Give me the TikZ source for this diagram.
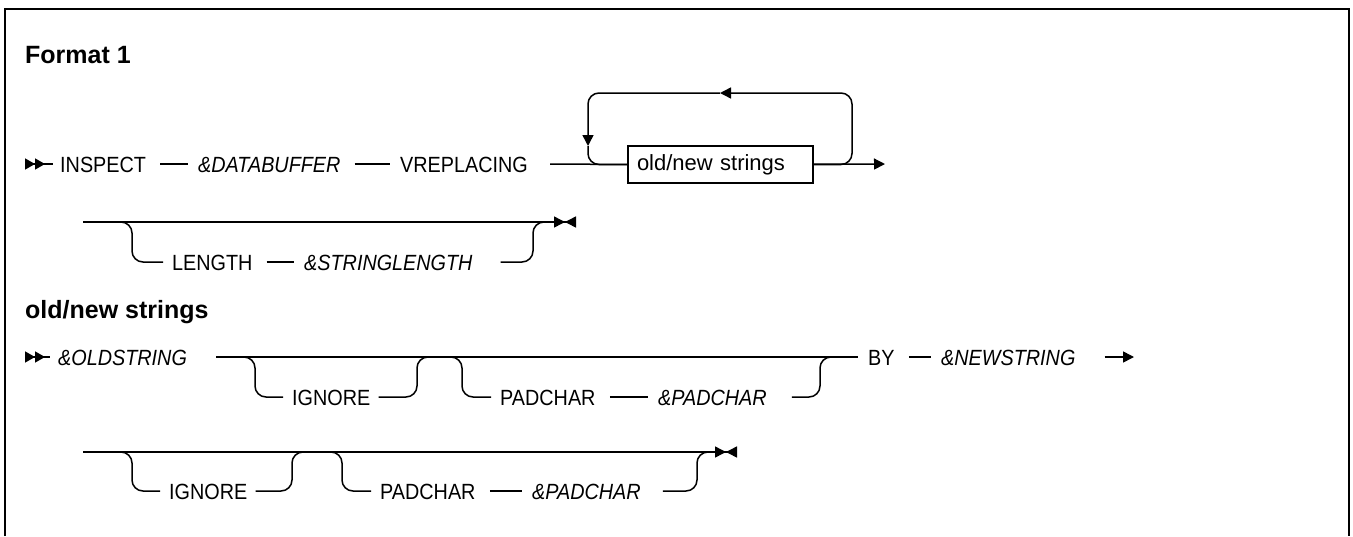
\documentclass[tikz,border=0pt]{standalone}
\usepackage{fontspec}
\setmainfont{Liberation Sans}
\newfontfamily\railfont{Liberation Sans}[FakeStretch=0.9]
\usetikzlibrary{positioning, calc, arrows.meta}

\begin{document}
\begin{tikzpicture}[
  x=1pt, y=-1pt,
  kw/.style={anchor=west, inner sep=0pt, text height=16pt, text depth=0pt,
    font=\railfont\fontsize{22}{24}\selectfont},
  var/.style={kw, font=\railfont\fontsize{22}{24}\selectfont\itshape},
  head/.style={anchor=west, inner sep=0pt, font=\fontsize{25}{27}\selectfont\bfseries},
  box/.style={draw, line width=1.5pt, minimum width=185pt, minimum height=37pt,
    text width=167pt, align=left, inner xsep=9pt, inner ysep=0pt,
    font=\fontsize{22}{24}\selectfont},
  rail/.style={line width=1.5pt},
  seg/.style={rail, shorten <=14pt, shorten >=10pt},
  br/.style={rail, rounded corners=11pt},
  arr/.style={-{Triangle[length=11pt,width=11pt]}},
  begin2/.style={{Triangle[length=10pt,width=11pt,reversed]Triangle[length=10pt,width=11pt,reversed]}-},
  begin1/.style={{Triangle[length=11pt,width=11pt,reversed]}-},
  finish/.style={-{Triangle[length=11pt,width=11pt]Triangle[length=11pt,width=11pt,reversed]}}
]
  \useasboundingbox (0,0) rectangle (1353,536);
  \draw[line width=2pt] (5,536) -- (5,9) -- (1349,9) -- (1349,536);

  % Format 1
  \node[head] (fmt) at (25,55) {Format 1};

  \coordinate (s1) at (25,164);
  \node[kw]  (inspect) at (60,164)  {INSPECT};
  \node[var] (databuf) at (198,164) {\&DATABUFFER};
  \node[kw]  (vrepl)   at (400,164) {VREPLACING};
  \node[box] (onstr)   at (720.5,164.5) {old/new strings};
  \coordinate (e1)  at (885,164);
  \coordinate (ltr) at (852,93);
  \coordinate (ltm) at (720,93);
  \coordinate (ltl) at (588,93);
  \coordinate (ldm) at (588,146);

  \draw[rail, begin2, shorten >=7pt] (s1) -- (inspect);
  \draw[seg] (inspect) -- (databuf);
  \draw[seg] (databuf) -- (vrepl);
  \draw[rail, shorten <=22pt] (vrepl) -- (onstr);
  \draw[rail, arr] (onstr) -- (e1);
  \draw[br, arr] (onstr.east) -| (ltr) -- (ltm);
  \draw[br, arr] (ltm) -- (ltl) -- (ldm);
  \draw[br] (ldm) |- (onstr.west);

  \coordinate (s2)  at (83,222);
  \coordinate (e2)  at (576,222);
  \coordinate (b2l) at (132,222);
  \coordinate (b2r) at (533,222);
  \node[kw]  (length) at (172,262) {LENGTH};
  \node[var] (strlen) at (304,262) {\&STRINGLENGTH};

  \draw[rail, begin1, finish] (s2) -- (e2);
  \draw[seg] (length) -- (strlen);
  \draw[br, shorten <=9pt] (length) -| (b2l) -- ++(-12,0);
  \draw[br, shorten <=28pt] (strlen) -| (b2r) -- ++(12,0);

  % old/new strings
  \node[head] (onhead) at (25,312) {old/new strings};

  \coordinate (s3) at (25,357);
  \node[var] (oldstr) at (58,357)  {\&OLDSTRING};
  \node[kw]  (by)     at (868,357) {BY};
  \node[var] (newstr) at (941,357) {\&NEWSTRING};
  \coordinate (e3) at (1134,357);
  \coordinate (b3a) at (255,357);
  \coordinate (b3b) at (417,357);
  \coordinate (b3c) at (462,357);
  \coordinate (b3d) at (820,357);
  \node[kw]  (ign1)  at (292,397) {IGNORE};
  \node[kw]  (pad1)  at (500,397) {PADCHAR};
  \node[var] (padv1) at (658,397) {\&PADCHAR};

  \draw[rail, begin2, shorten >=8pt] (s3) -- (oldstr);
  \draw[rail, shorten <=29pt, shorten >=10pt] (oldstr) -- (by);
  \draw[seg] (by) -- (newstr);
  \draw[rail, arr, shorten <=29pt] (newstr) -- (e3);
  \draw[br, shorten <=9pt] (ign1) -| (b3a) -- ++(-12,0);
  \draw[br, shorten <=8pt] (ign1) -| (b3b) -- ++(12,0);
  \draw[br, shorten <=9pt] (pad1) -| (b3c) -- ++(-12,0);
  \draw[seg] (pad1) -- (padv1);
  \draw[br, shorten <=25pt] (padv1) -| (b3d) -- ++(12,0);

  \coordinate (s4) at (83,452);
  \coordinate (e4) at (737,452);
  \coordinate (b4a) at (132,452);
  \coordinate (b4b) at (292,452);
  \coordinate (b4c) at (342,452);
  \coordinate (b4d) at (697,452);
  \node[kw]  (ign2)  at (169,491) {IGNORE};
  \node[kw]  (pad2)  at (380,491) {PADCHAR};
  \node[var] (padv2) at (532,491) {\&PADCHAR};

  \draw[rail, begin1, finish] (s4) -- (e4);
  \draw[br, shorten <=9pt] (ign2) -| (b4a) -- ++(-12,0);
  \draw[br, shorten <=8pt] (ign2) -| (b4b) -- ++(12,0);
  \draw[br, shorten <=9pt] (pad2) -| (b4c) -- ++(-12,0);
  \draw[seg] (pad2) -- (padv2);
  \draw[br, shorten <=22pt] (padv2) -| (b4d) -- ++(12,0);
\end{tikzpicture}
\end{document}
